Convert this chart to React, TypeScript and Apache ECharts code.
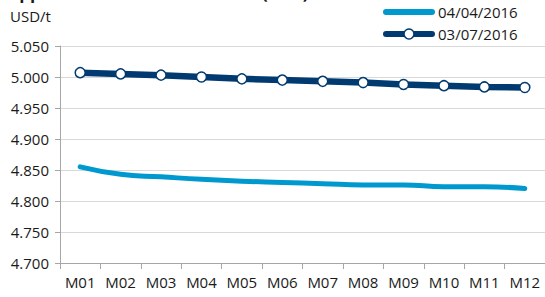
import React, { useEffect, useRef } from "react";
import * as echarts from "echarts";

const categories = ["M01", "M02", "M03", "M04", "M05", "M06", "M07", "M08", "M09", "M10", "M11", "M12"];
const seriesApril = [4.855, 4.843, 4.839, 4.835, 4.832, 4.830, 4.828, 4.826, 4.826, 4.823, 4.823, 4.820];
const seriesJuly = [5.007, 5.005, 5.003, 5.000, 4.997, 4.995, 4.993, 4.991, 4.988, 4.986, 4.984, 4.983];
const seriesNames = ["04/04/2016", "03/07/2016"];
const yUnit = "USD/t";
const titleText = "Copper Futures Forward Curve (LME)";

const FONT = "'Open Sans', 'Noto Sans', sans-serif";
const LIGHT = "#0099CF";
const DARK = "#003A70";

export default function App() {
  const ref = useRef<HTMLDivElement>(null);
  useEffect(() => {
    const chart = echarts.init(ref.current!, null, { renderer: "svg" });
    chart.setOption({
      animation: false,
      backgroundColor: "#ffffff",
      textStyle: { fontFamily: FONT },
      graphic: [
        {
          type: "text",
          left: -2,
          top: -16,
          style: { text: titleText, font: `bold 17px ${FONT}`, fill: "#1a1a1a" },
        },
        {
          type: "text",
          left: 10,
          top: 8,
          style: { text: yUnit, font: `15px ${FONT}`, fill: "#1a1a1a" },
        },
        {
          type: "line",
          shape: { x1: 386, y1: 12, x2: 432, y2: 12 },
          style: { stroke: LIGHT, lineWidth: 6, lineCap: "round" },
        },
        {
          type: "text",
          x: 438,
          y: 12,
          style: { text: seriesNames[0], font: `15px ${FONT}`, fill: "#1a1a1a", verticalAlign: "middle" },
        },
        {
          type: "line",
          shape: { x1: 386, y1: 34, x2: 432, y2: 34 },
          style: { stroke: DARK, lineWidth: 6, lineCap: "round" },
        },
        {
          type: "circle",
          shape: { cx: 409, cy: 34, r: 5 },
          style: { fill: "#ffffff", stroke: DARK, lineWidth: 1.5 },
        },
        {
          type: "text",
          x: 438,
          y: 34,
          style: { text: seriesNames[1], font: `15px ${FONT}`, fill: "#1a1a1a", verticalAlign: "middle" },
        },
      ],
      grid: { left: 60, right: -3, top: 46, bottom: 34, containLabel: false },
      xAxis: {
        type: "category",
        data: categories,
        boundaryGap: true,
        axisLine: { lineStyle: { color: "#A6A6A6", width: 1 } },
        axisTick: { show: true, length: 6, lineStyle: { color: "#A6A6A6" } },
        axisLabel: { fontSize: 15, color: "#1a1a1a", margin: 11, fontFamily: FONT, interval: 0 },
        splitLine: { show: false },
      },
      yAxis: {
        type: "value",
        min: 4.7,
        max: 5.05,
        interval: 0.05,
        axisLine: { show: true, lineStyle: { color: "#A6A6A6", width: 1 } },
        axisTick: { show: true, length: 5, lineStyle: { color: "#A6A6A6" } },
        axisLabel: {
          fontSize: 15,
          color: "#1a1a1a",
          margin: 11,
          fontFamily: FONT,
          formatter: (v: number) => v.toFixed(3),
        },
        splitLine: { show: true, lineStyle: { color: "#D9D9D9", width: 1 } },
      },
      series: [
        {
          name: seriesNames[0],
          type: "line",
          data: seriesApril,
          smooth: true,
          showSymbol: false,
          symbol: "none",
          lineStyle: { color: LIGHT, width: 5, cap: "round" },
          itemStyle: { color: LIGHT },
        },
        {
          name: seriesNames[1],
          type: "line",
          data: seriesJuly,
          smooth: false,
          symbol: "circle",
          symbolSize: 10,
          lineStyle: { color: DARK, width: 6.5 },
          itemStyle: { color: "#ffffff", borderColor: DARK, borderWidth: 1.5 },
        },
      ],
    });
    return () => chart.dispose();
  }, []);
  return <div ref={ref} style={{ width: 545, height: 297, position: "absolute", left: 0, top: 0 }} />;
}
